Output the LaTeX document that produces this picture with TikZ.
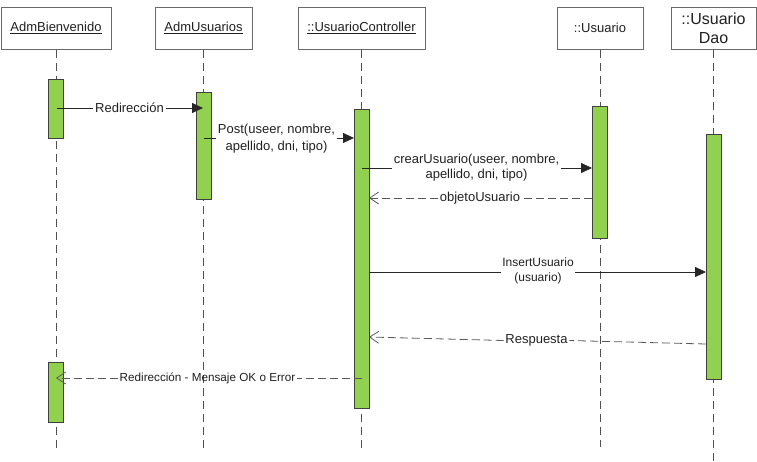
\documentclass[tikz,border=0pt]{standalone}
\usepackage{fontspec}
\setmainfont{Liberation Sans}
\usetikzlibrary{arrows.meta}
\definecolor{actgreen}{HTML}{92D050}
\definecolor{actedge}{HTML}{404040}
\definecolor{lifegray}{HTML}{505050}
\definecolor{headedge}{HTML}{6A6A6A}
\definecolor{txt}{HTML}{202020}
\begin{document}
\begin{tikzpicture}[x=1pt,y=-1pt,
  head/.style={draw=headedge, fill=white, line width=1pt, minimum height=42pt,
    inner sep=0pt, font=\fontsize{13}{16}\selectfont, align=center, text=txt},
  act/.style={draw=actedge, fill=actgreen, line width=0.8pt, minimum width=15pt, inner sep=0pt},
  lifeline/.style={draw=lifegray, line width=0.9pt, dash pattern=on 8pt off 5pt},
  msg/.style={draw=black!85, line width=0.8pt},
  call/.style={msg, -{Triangle[length=11pt,width=10pt]}},
  retline/.style={draw=black!65, line width=0.8pt, dash pattern=on 8pt off 4pt},
  ret/.style={retline, -{Straight Barb[length=9pt,width=12pt,line width=0.8pt]}},
  lbl/.style={inner xsep=1.5pt, inner ysep=0pt, align=center, text=txt,
    font=\fontsize{13}{16}\selectfont}]
\useasboundingbox (0,0) rectangle (757,461);

% headers
\node[head, minimum width=110pt] (hB) at (56,28) {\underline{AdmBienvenido}};
\node[head, minimum width=97pt] (hU) at (203.5,28) {\underline{AdmUsuarios}};
\node[head, minimum width=127pt] (hC) at (361.5,28) {\underline{::UsuarioController}};
\node[head, minimum width=86pt] (hUs) at (600,28) {::Usuario};
\node[head, minimum width=85pt, font=\fontsize{16}{19}\selectfont] (hD) at (713.5,28) {::Usuario\\Dao};

% lifeline ends
\coordinate (eB) at (56,451);
\coordinate (eU) at (203.5,451);
\coordinate (eC) at (361.5,450);
\coordinate (eUs) at (600,447);
\coordinate (eD) at (713.5,461);

\draw[lifeline] (hB.south) -- (eB);
\draw[lifeline] (hU.south) -- (eU);
\draw[lifeline] (hC.south) -- (eC);
\draw[lifeline] (hUs.south) -- (eUs);
\draw[lifeline] (hD.south) -- (eD);

% activations
\node[act, minimum height=59pt] (aB1) at (56,108.5) {};
\node[act, minimum height=107pt] (aU) at (203.5,145.5) {};
\node[act, minimum height=299pt] (aC) at (361.5,258.5) {};
\node[act, minimum height=132pt] (aUs) at (600,172) {};
\node[act, minimum height=245pt] (aD) at (713.5,256.5) {};
\node[act, minimum height=60pt] (aB2) at (56,392) {};

% message end points
\coordinate (m1s) at (57,108);   \coordinate (m1e) at (203,108);
\coordinate (m2s) at (204,138);  \coordinate (m2e) at (354,138);
\coordinate (m3s) at (362,168);  \coordinate (m3e) at (592,168);
\coordinate (m4s) at (592,198);  \coordinate (m4e) at (369,198);
\coordinate (m5s) at (369,272);  \coordinate (m5e) at (706,272);
\coordinate (m6s) at (706,344);  \coordinate (m6e) at (369,337);
\coordinate (m7s) at (362,378);  \coordinate (m7e) at (56,378);

% labels
\node[lbl] (l1) at (129.5,108) {Redirección};
\node[lbl, font=\fontsize{13}{17}\selectfont] (l2) at (276.5,138.5) {Post(useer, nombre,\\apellido, dni, tipo)};
\node[lbl, font=\fontsize{13}{15}\selectfont] (l3) at (476.5,167.5) {crearUsuario(useer, nombre,\\apellido, dni, tipo)};
\node[lbl] (l4) at (480,198) {objetoUsuario};
\node[lbl, font=\fontsize{12}{15}\selectfont] (l5) at (538,270.5) {InsertUsuario\\(usuario)};
\node[lbl] (l6) at (536.5,340.5) {Respuesta};
\node[lbl, font=\fontsize{11.7}{14}\selectfont] (l7) at (207.5,378) {Redirección - Mensaje OK o Error};

% messages
\draw[msg] (m1s) -- (l1.west |- m1s);
\draw[call] (l1.east |- m1s) -- (m1e);
\draw[msg] (m2s) -- (l2.west |- m2s);
\draw[call] (l2.east |- m2s) -- (m2e);
\draw[msg] (m3s) -- (l3.west |- m3s);
\draw[call] (l3.east |- m3s) -- (m3e);
\draw[retline] (m4s) -- (l4.east |- m4s);
\draw[ret] (l4.west |- m4s) -- (m4e);
\draw[msg] (m5s) -- (l5.west |- m5s);
\draw[call] (l5.east |- m5s) -- (m5e);
\draw[retline] (m6s) -- (l6.east);
\draw[ret] (l6.west) -- (m6e);
\draw[retline] (m7s) -- (l7.east |- m7s);
\draw[ret] (l7.west |- m7s) -- (m7e);
\end{tikzpicture}
\end{document}
